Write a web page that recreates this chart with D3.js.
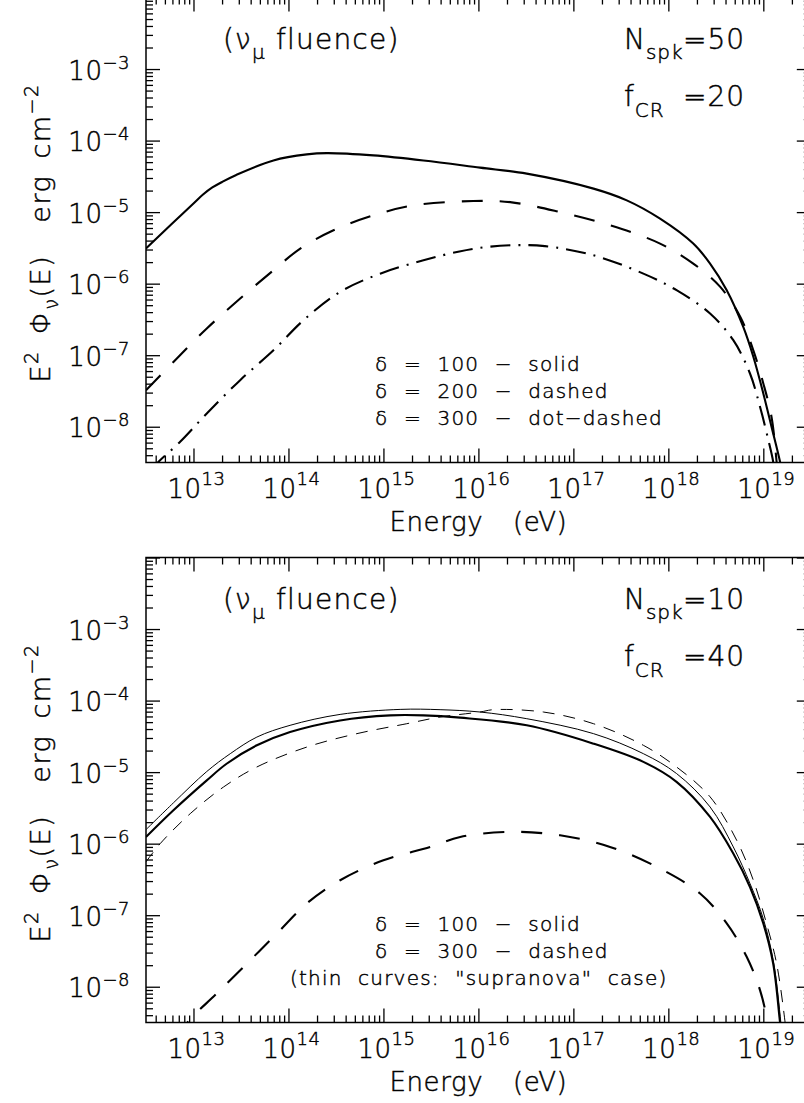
<!DOCTYPE html>
<html><head><meta charset="utf-8">
<script src="https://cdn.jsdelivr.net/npm/d3@7"></script>
<style>
html,body{margin:0;padding:0;background:#fff;}
svg{display:block;}
text{font-family:"DejaVu Sans",sans-serif;font-weight:200;fill:#000;stroke:#000;stroke-width:0.45px;white-space:pre;}
</style></head><body>
<svg id="chart" width="804" height="1103"></svg>
<script>
// ---------- tick labels (exponents) ----------
const xTickExps = [13, 14, 15, 16, 17, 18, 19];
const yTickExps = [-3, -4, -5, -6, -7, -8];

// ---------- top panel (N_spk = 50, f_CR = 20) ----------
const topSolidE = [3.16e12, 1.0e13, 1.26e13, 1.58e13, 2.0e13, 2.82e13, 6.95e13, 1.56e14, 2.54e14, 7.85e14, 2.64e15, 1.04e16, 3.23e16, 1.63e17, 3.65e17, 8.18e17, 1.83e18, 2.75e18, 4.12e18, 6.15e18, 7.85e18, 1.0e19, 1.22e19, 1.5e19, 1.66e19];
const topSolidF = [3.11e-6, 1.32e-5, 1.76e-5, 2.21e-5, 2.64e-5, 3.31e-5, 5.28e-5, 6.41e-5, 6.68e-5, 6.21e-5, 5.28e-5, 4.19e-5, 3.45e-5, 2.13e-5, 1.46e-5, 8.1e-6, 3.63e-6, 1.91e-6, 8.1e-7, 2.48e-7, 9.5e-8, 2.92e-8, 1.0e-8, 3.24e-9, 1.6e-9];

const topDashedE = [3.16e12, 6.15e12, 1.38e13, 3.1e13, 6.95e13, 1.33e14, 2.98e14, 7.85e14, 2.07e15, 8.85e15, 2.16e16, 7.24e16, 2.43e17, 8.18e17, 1.83e18, 3.52e18, 5.73e18, 7.85e18, 1.0e19, 1.22e19, 1.38e19, 1.45e19];
const topDashedF = [3.24e-8, 8.05e-8, 2.36e-7, 6.19e-7, 1.54e-6, 3.09e-6, 5.57e-6, 9.0e-6, 1.24e-5, 1.43e-5, 1.38e-5, 1.0e-5, 6.55e-6, 3.63e-6, 1.91e-6, 9.0e-7, 3.43e-7, 1.17e-7, 4.03e-8, 1.37e-8, 3.24e-9, 1.5e-9];

const topDotDashE = [3.55e12, 4.29e12, 7.24e12, 1.38e13, 3.1e13, 6.95e13, 1.44e14, 3.5e14, 9.23e14, 2.64e15, 6.31e15, 1.26e16, 2.51e16, 5.01e16, 1.63e17, 5.46e17, 1.22e18, 2.75e18, 4.83e18, 7.24e18, 9.23e18, 1.13e19, 1.27e19, 1.35e19];
const topDotDashF = [2.5e-9, 3.24e-9, 6.17e-9, 1.53e-8, 4.48e-8, 1.17e-7, 3.08e-7, 7.66e-7, 1.38e-6, 2.12e-6, 2.82e-6, 3.27e-6, 3.45e-6, 3.35e-6, 2.49e-6, 1.38e-6, 8.1e-7, 3.82e-7, 1.62e-7, 5.55e-8, 1.9e-8, 6.5e-9, 3.24e-9, 1.6e-9];

// ---------- bottom panel (N_spk = 10, f_CR = 40) ----------
const botSolidE = [3.16e12, 6.15e12, 1.38e13, 2.25e13, 4.65e13, 1.04e14, 3.5e14, 1.18e15, 2.64e15, 6.43e15, 3.23e16, 1.63e17, 5.46e17, 1.22e18, 2.75e18, 4.83e18, 7.24e18, 1.0e19, 1.27e19, 1.5e19, 1.6e19];
const botSolidF = [1.24e-6, 2.93e-6, 7.67e-6, 1.32e-5, 2.37e-5, 3.63e-5, 5.28e-5, 6.21e-5, 6.21e-5, 5.77e-5, 4.51e-5, 2.5e-5, 1.39e-5, 7.31e-6, 2.36e-6, 7.28e-7, 2.48e-7, 7.66e-8, 2.11e-8, 3.16e-9, 1.5e-9];

const botThinSolidE = [3.16e12, 6.15e12, 1.38e13, 2.44e13, 4.65e13, 1.04e14, 3.5e14, 1.5e15, 3.95e15, 1.04e16, 3.23e16, 1.63e17, 5.46e17, 1.22e18, 2.75e18, 4.83e18, 7.24e18, 1.0e19, 1.29e19, 1.53e19, 1.62e19];
const botThinSolidF = [1.57e-6, 3.72e-6, 1.02e-5, 1.81e-5, 3.09e-5, 4.51e-5, 6.41e-5, 7.53e-5, 7.46e-5, 6.92e-5, 5.58e-5, 3.45e-5, 1.81e-5, 9.55e-6, 3.26e-6, 9.0e-7, 2.77e-7, 8.9e-8, 2.11e-8, 3.16e-9, 1.5e-9];

const botThinDashedE = [3.16e12, 4.46e12, 9.25e12, 2.07e13, 4.65e13, 1.56e14, 5.25e14, 1.76e15, 3.95e15, 1.04e16, 1.44e16, 4.83e16, 1.63e17, 5.46e17, 1.22e18, 2.75e18, 5.25e18, 7.85e18, 1.08e19, 1.38e19, 1.7e19, 1.8e19];
const botThinDashedF = [5.55e-7, 1.0e-6, 2.63e-6, 6.19e-6, 1.18e-5, 2.24e-5, 3.45e-5, 4.75e-5, 5.89e-5, 6.92e-5, 7.46e-5, 6.92e-5, 4.75e-5, 2.37e-5, 1.18e-5, 4.51e-6, 1.11e-6, 3.08e-7, 7.66e-8, 2.11e-8, 3.1e-9, 1.5e-9];

const botDashedE = [7.08e12, 8.5e12, 1.76e13, 3.65e13, 7.55e13, 1.56e14, 3.5e14, 1.0e15, 3.1e15, 6.43e15, 2.16e16, 7.24e16, 2.43e17, 8.18e17, 2.16e18, 4.12e18, 6.68e18, 9.23e18, 1.11e19, 1.16e19];
const botDashedF = [1.8e-9, 3.07e-9, 8.05e-9, 2.11e-8, 5.55e-8, 1.46e-7, 3.08e-7, 5.86e-7, 9.0e-7, 1.24e-6, 1.46e-6, 1.31e-6, 9.0e-7, 4.48e-7, 2.01e-7, 7.66e-8, 2.62e-8, 8.97e-9, 3.09e-9, 1.5e-9];

// ---------- annotation texts ----------
const topLegend = ["δ = 100 − solid", "δ = 200 − dashed", "δ = 300 − dot−dashed"];
const botLegend = ["δ = 100 − solid", "δ = 300 − dashed", "(thin curves: \"supranova\" case)"];
const nSpk = ["50", "10"];
const fCR = ["20", "40"];

// ---------- layout ----------
const svg = d3.select("#chart");
const X0 = 146, X1 = 810.8;
const x = d3.scaleLog().domain([10 ** 12.5, 10 ** 19.5]).range([X0, X1]);

const xMinor = [], yMinor = [];
for (let k = 12; k <= 19; k++) for (let m = 2; m <= 9; m++) {
  const v = m * 10 ** k; if (v > 10 ** 12.5 && v < 10 ** 19.5) xMinor.push(v);
}
for (let k = -9; k <= -3; k++) for (let m = 2; m <= 9; m++) {
  const v = m * 10 ** k; if (v > 10 ** -8.5 && v < 1e-2) yMinor.push(v);
}
const xMajor = xTickExps.map(e => 10 ** e);
const yMajor = yTickExps.map(e => 10 ** e).concat([1e-2]);

const THICK = 2.1, THIN = 1.0;
const panels = [
  { top: -2.5, bottom: 462.5,
    series: [
      { E: topSolidE, F: topSolidF, w: THICK, dash: null },
      { E: topDashedE, F: topDashedF, w: THICK, dash: "21,17" },
      { E: topDotDashE, F: topDotDashF, w: THICK, dash: "20,8,2,8" }
    ],
    legend: topLegend, legendX: [375, 375, 375], n: nSpk[0], f: fCR[0] },
  { top: 557.5, bottom: 1022.5,
    series: [
      { E: botSolidE, F: botSolidF, w: THICK, dash: null },
      { E: botThinSolidE, F: botThinSolidF, w: THIN, dash: null },
      { E: botThinDashedE, F: botThinDashedF, w: THIN, dash: "12,9" },
      { E: botDashedE, F: botDashedF, w: THICK, dash: "21,17" }
    ],
    legend: botLegend, legendX: [375, 375, 290], n: nSpk[1], f: fCR[1] }
];

function rich(sel, parts, supSize, supShift, subShift) {
  let cur = 0;
  parts.forEach(p => {
    const target = p.sup ? -supShift : (p.sub ? subShift : 0);
    const ts = sel.append("tspan").attr("dy", target - cur).text(p.t);
    if (p.sup || p.sub) ts.attr("font-size", supSize);
    if (p.dx) ts.attr("dx", p.dx);
    if (p.x !== undefined) ts.attr("x", p.x);
    cur = target;
  });
}

const defs = svg.append("defs");

panels.forEach((p, i) => {
  const y = d3.scaleLog().domain([10 ** -8.5, 1e-2]).range([p.bottom, p.top]);
  const g = svg.append("g");

  defs.append("clipPath").attr("id", "clip" + i)
    .append("rect").attr("x", X0).attr("y", p.top).attr("width", X1 - X0).attr("height", p.bottom - p.top);

  // curves
  const line = d3.line().x(d => x(d[0])).y(d => y(d[1])).curve(d3.curveCatmullRom.alpha(0.5));
  const cg = g.append("g").attr("clip-path", `url(#clip${i})`);
  p.series.forEach(s => {
    cg.append("path").datum(d3.zip(s.E, s.F))
      .attr("d", line).attr("fill", "none").attr("stroke", "#000")
      .attr("stroke-width", s.w).attr("stroke-dasharray", s.dash)
      .attr("stroke-linejoin", "round");
  });

  // axes ticks (inward)
  const tick = (axis, vals, len, tr) => {
    const a = g.append("g").attr("transform", tr)
      .call(axis.tickValues(vals).tickSize(-len).tickSizeOuter(0).tickFormat(""));
    a.select(".domain").remove();
    a.selectAll("line").attr("stroke", "#000").attr("stroke-width", 1.3);
  };
  tick(d3.axisBottom(x), xMajor, 14, `translate(0,${p.bottom})`);
  tick(d3.axisBottom(x), xMinor, 7, `translate(0,${p.bottom})`);
  tick(d3.axisTop(x), xMajor, 14, `translate(0,${p.top})`);
  tick(d3.axisTop(x), xMinor, 7, `translate(0,${p.top})`);
  tick(d3.axisLeft(y), yMajor, 14, `translate(${X0},0)`);
  tick(d3.axisLeft(y), yMinor, 7, `translate(${X0},0)`);
  tick(d3.axisRight(y), yMajor, 14, `translate(${X1},0)`);
  tick(d3.axisRight(y), yMinor, 7, `translate(${X1},0)`);

  g.append("rect").attr("x", X0).attr("y", p.top).attr("width", X1 - X0).attr("height", p.bottom - p.top)
    .attr("fill", "none").attr("stroke", "#000").attr("stroke-width", 1.5);

  // x tick labels
  xTickExps.forEach(e => {
    const t = g.append("text").attr("x", x(10 ** e) + 3).attr("y", p.bottom + 35)
      .attr("text-anchor", "middle").attr("font-size", 26).attr("letter-spacing", 0.5);
    rich(t, [{ t: "10" }, { t: String(e), sup: true }], 18, 13, 0);
  });
  // y tick labels
  yTickExps.forEach(e => {
    const t = g.append("text").attr("x", 130).attr("y", y(10 ** e) + 10.5)
      .attr("text-anchor", "end").attr("font-size", 26).attr("letter-spacing", 0.5);
    rich(t, [{ t: "10" }, { t: "−" + Math.abs(e), sup: true }], 18, 11, 0);
  });

  // x axis title
  g.append("text").attr("x", (X0 + X1) / 2).attr("y", p.bottom + 68)
    .attr("text-anchor", "middle").attr("font-size", 26).attr("letter-spacing", 0.6).attr("word-spacing", 6)
    .text("Energy  (eV)");

  // y axis title
  const cy = (p.top + p.bottom) / 2 + 3;
  const yt = g.append("text").attr("transform", `translate(50,${cy}) rotate(-90)`)
    .attr("text-anchor", "middle").attr("font-size", 27).attr("letter-spacing", 1.5).attr("word-spacing", 6);
  rich(yt, [{ t: "E" }, { t: "2", sup: true }, { t: " Φ" }, { t: "ν", sub: true }, { t: "(E)  erg cm" }, { t: "−2", sup: true }], 19, 12, 8);

  // (nu_mu fluence)
  const fl = g.append("text").attr("x", 223).attr("y", p.top + 51).attr("font-size", 28).attr("letter-spacing", 1.2);
  rich(fl, [{ t: "(ν" }, { t: "μ", sub: true }, { t: " fluence)" }], 20, 0, 10);

  // N_spk and f_CR
  const nt = g.append("text").attr("x", 624).attr("y", p.top + 51).attr("font-size", 28).attr("letter-spacing", 1);
  rich(nt, [{ t: "N" }, { t: "spk", sub: true }, { t: "=" + p.n, x: 683 }], 20, 0, 10);
  const ft = g.append("text").attr("x", 624).attr("y", p.top + 108).attr("font-size", 28).attr("letter-spacing", 1);
  rich(ft, [{ t: "f" }, { t: "CR", sub: true }, { t: "=" + p.f, x: 683 }], 20, 0, 11);

  // legend
  p.legend.forEach((s, j) => {
    g.append("text").attr("x", p.legendX[j]).attr("y", p.top + 373 + j * 27)
      .attr("font-size", 20).attr("letter-spacing", 1.2).attr("word-spacing", 8).text(s);
  });
});
</script>
</body></html>
